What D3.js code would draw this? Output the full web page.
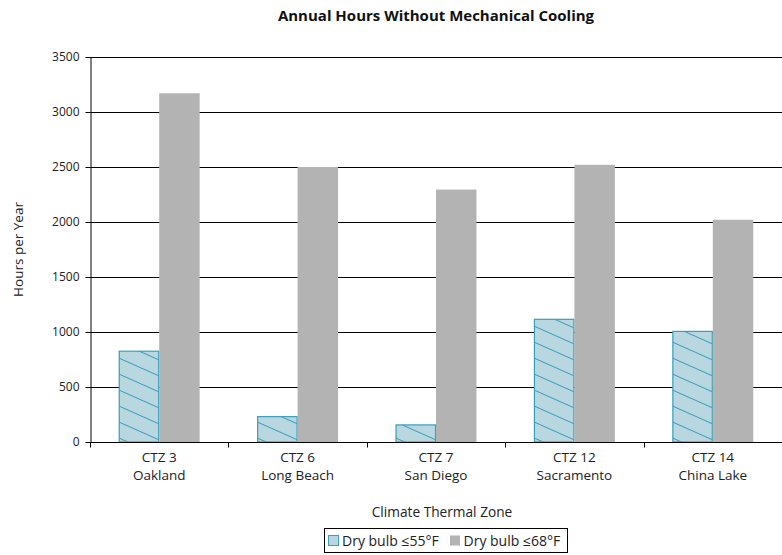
<!DOCTYPE html>
<meta charset="utf-8">
<style>
  body { margin: 0; background: white; }
  text { font-family: "Open Sans", "Noto Sans", sans-serif; fill: #222; }
  .title { font-family: "Open Sans", sans-serif; font-weight: bold; font-size: 15px; fill: #111; }
  .axis path, .axis line { stroke: #000; }
</style>
<svg width="782" height="555"></svg>
<script src="https://d3js.org/d3.v7.min.js"></script>
<script>

var zones = ["CTZ 3", "CTZ 6", "CTZ 7", "CTZ 12", "CTZ 14"];
var cities = ["Oakland", "Long Beach", "San Diego", "Sacramento", "China Lake"];
var series = ["Dry bulb ≤55°F", "Dry bulb ≤68°F"];
var dry55 = [830, 235, 160, 1120, 1010];
var dry68 = [3170, 2500, 2295, 2520, 2020];
var yTicks = [0, 500, 1000, 1500, 2000, 2500, 3000, 3500];

var svg = d3.select("svg"),
    margin = {top: 57, right: 0, bottom: 113, left: 90},
    width = +svg.attr("width") - margin.left - margin.right,
    height = +svg.attr("height") - margin.top - margin.bottom;

var data = zones.map(function(z, i) {
  return {zone: z, city: cities[i], values: [dry55[i], dry68[i]]};
});

var x = d3.scaleBand().domain(zones).range([0, width]);
var x1 = d3.scaleBand().domain(series).range([0, x.bandwidth()]).paddingInner(0).paddingOuter(0.71);
var y = d3.scaleLinear().domain([0, 3500]).range([height, 0]);

var defs = svg.append("defs");
var pat = defs.append("pattern")
    .attr("id", "hatch")
    .attr("patternUnits", "userSpaceOnUse")
    .attr("width", 10)
    .attr("height", 14.6)
    .attr("patternTransform", "rotate(24)");
pat.append("rect").attr("width", 10).attr("height", 14.6).attr("fill", "#b9d7e1");
pat.append("line").attr("x1", 0).attr("x2", 10).attr("y1", 0.5).attr("y2", 0.5)
    .attr("stroke", "#3a9fb7").attr("stroke-width", 1);

var colors = ["url(#hatch)", "#b3b3b3"];

svg.append("text")
    .attr("class", "title")
    .attr("x", 436)
    .attr("y", 21)
    .attr("text-anchor", "middle")
    .text("Annual Hours Without Mechanical Cooling");

var g = svg.append("g")
    .attr("transform", "translate(" + margin.left + "," + margin.top + ")");

// gridlines
g.selectAll(".grid")
  .data(yTicks.slice(1))
  .enter().append("line")
    .attr("x1", 0).attr("x2", width)
    .attr("y1", function(d) { return y(d) + 0.5; })
    .attr("y2", function(d) { return y(d) + 0.5; })
    .attr("stroke", "#000").attr("stroke-width", 1);

var groups = g.selectAll(".zone")
  .data(data)
  .enter().append("g")
    .attr("transform", function(d) { return "translate(" + x(d.zone) + ",0)"; });

groups.selectAll("rect")
  .data(function(d) { return d.values.map(function(v, i) { return {s: series[i], v: v, i: i}; }); })
  .enter().append("rect")
    .attr("x", function(d) { return x1(d.s) + (d.i === 0 ? 0.5 : 0); })
    .attr("y", function(d) { return y(d.v) + (d.i === 0 ? 0.5 : 0); })
    .attr("width", function(d) { return x1.bandwidth() - (d.i === 0 ? 1 : 0); })
    .attr("height", function(d) { return height - y(d.v) - (d.i === 0 ? 0.5 : 0); })
    .attr("fill", function(d) { return colors[d.i]; })
    .attr("stroke", function(d) { return d.i === 0 ? "#3a9fb7" : "none"; })
    .attr("stroke-width", 1.2);

// y axis
g.append("g")
    .attr("class", "axis")
    .attr("transform", "translate(0.5,0)")
    .call(d3.axisLeft(y).tickValues(yTicks).tickFormat(d3.format("d")).tickSize(5).tickPadding(6).tickSizeOuter(0))
    .call(function(s) { s.selectAll("text").style("font-size", "12px").style("fill", "#222"); });

// x axis
var xa = g.append("g")
    .attr("class", "axis")
    .attr("transform", "translate(0," + (height + 0.5) + ")");
xa.append("line").attr("x1", 0).attr("x2", width).attr("stroke", "#000");
xa.selectAll(".tk")
  .data(zones)
  .enter().append("line")
    .attr("x1", function(d) { return Math.round(x(d)) + 0.5; })
    .attr("x2", function(d) { return Math.round(x(d)) + 0.5; })
    .attr("y1", 0).attr("y2", 5)
    .attr("stroke", "#000");

var lbl = xa.selectAll(".lbl")
  .data(data)
  .enter().append("text")
    .attr("text-anchor", "middle")
    .style("font-size", "13.5px")
    .attr("x", function(d) { return x(d.zone) + x.bandwidth() / 2; });
lbl.append("tspan").attr("y", 19.5).text(function(d) { return d.zone; });
lbl.append("tspan").attr("y", 37.5)
    .attr("x", function(d) { return x(d.zone) + x.bandwidth() / 2; })
    .text(function(d) { return d.city; });

svg.append("text")
    .attr("x", 442).attr("y", 517)
    .attr("text-anchor", "middle")
    .style("font-size", "13.7px")
    .text("Climate Thermal Zone");

svg.append("text")
    .attr("transform", "translate(23," + (margin.top + height / 2) + ") rotate(-90)")
    .attr("text-anchor", "middle")
    .style("font-size", "13.5px")
    .text("Hours per Year");

// legend
var leg = svg.append("g").attr("transform", "translate(324.5,528.5)");
leg.append("rect").attr("width", 243).attr("height", 24)
    .attr("fill", "white").attr("stroke", "#000");
var items = leg.selectAll(".item")
  .data(series)
  .enter().append("g")
    .attr("transform", function(d, i) { return "translate(" + (i === 0 ? 4 : 125.5) + ",0)"; });
items.append("rect")
    .attr("x", 0).attr("y", 7).attr("width", 10).attr("height", 10)
    .attr("fill", function(d, i) { return colors[i]; })
    .attr("stroke", function(d, i) { return i === 0 ? "#3a9fb7" : "none"; });
items.append("text")
    .attr("x", 13.5).attr("y", 17)
    .style("font-size", "14px")
    .text(function(d) { return d; });

</script>
